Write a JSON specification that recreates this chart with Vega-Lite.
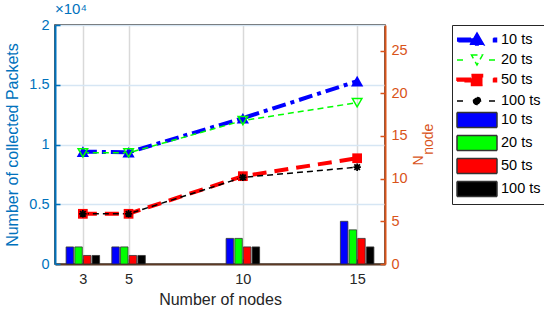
{
  "$schema": "https://vega.github.io/schema/vega-lite/v6.json",
  "width": 330,
  "height": 239,
  "padding": {"left": 4, "top": 2, "right": 0, "bottom": 0},
  "background": "white",
  "title": {"text": "×10⁴", "anchor": "start", "frame": "group", "color": "#0072BD", "fontSize": 15, "fontWeight": "normal", "offset": 0},
  "config": {
    "font": "Liberation Sans",
    "view": {"stroke": "#262626", "strokeWidth": 1.5},
    "axis": {"labelFontSize": 14.5, "titleFontSize": 16, "titleFontWeight": "normal", "tickSize": -5, "tickWidth": 1.5, "labelPadding": 11}
  },
  "datasets": {
    "packets": [
      {"nodes": 3, "key": "line 10 ts", "packets": 9400},
      {"nodes": 5, "key": "line 10 ts", "packets": 9350},
      {"nodes": 10, "key": "line 10 ts", "packets": 12200},
      {"nodes": 15, "key": "line 10 ts", "packets": 15300},
      {"nodes": 3, "key": "line 20 ts", "packets": 9300},
      {"nodes": 5, "key": "line 20 ts", "packets": 9300},
      {"nodes": 10, "key": "line 20 ts", "packets": 12000},
      {"nodes": 15, "key": "line 20 ts", "packets": 13500},
      {"nodes": 3, "key": "line 50 ts", "packets": 4200},
      {"nodes": 5, "key": "line 50 ts", "packets": 4200},
      {"nodes": 10, "key": "line 50 ts", "packets": 7350},
      {"nodes": 15, "key": "line 50 ts", "packets": 8850},
      {"nodes": 3, "key": "line 100 ts", "packets": 4200},
      {"nodes": 5, "key": "line 100 ts", "packets": 4200},
      {"nodes": 10, "key": "line 100 ts", "packets": 7250},
      {"nodes": 15, "key": "line 100 ts", "packets": 8100}
    ],
    "counts": [
      {"nodes": 3, "key": "bar 10 ts", "count": 2},
      {"nodes": 3, "key": "bar 20 ts", "count": 2},
      {"nodes": 3, "key": "bar 50 ts", "count": 1},
      {"nodes": 3, "key": "bar 100 ts", "count": 1},
      {"nodes": 5, "key": "bar 10 ts", "count": 2},
      {"nodes": 5, "key": "bar 20 ts", "count": 2},
      {"nodes": 5, "key": "bar 50 ts", "count": 1},
      {"nodes": 5, "key": "bar 100 ts", "count": 1},
      {"nodes": 10, "key": "bar 10 ts", "count": 3},
      {"nodes": 10, "key": "bar 20 ts", "count": 3},
      {"nodes": 10, "key": "bar 50 ts", "count": 2},
      {"nodes": 10, "key": "bar 100 ts", "count": 2},
      {"nodes": 15, "key": "bar 10 ts", "count": 5},
      {"nodes": 15, "key": "bar 20 ts", "count": 4},
      {"nodes": 15, "key": "bar 50 ts", "count": 3},
      {"nodes": 15, "key": "bar 100 ts", "count": 2}
    ]
  },
  "encoding": {
    "x": {
      "field": "nodes", "type": "quantitative",
      "scale": {"domain": [2, 16], "nice": false, "zero": false},
      "axis": {"title": "Number of nodes", "values": [3, 5, 10, 15], "grid": true, "gridColor": "#d9d9d9", "gridWidth": 1.5,
               "labelColor": "#262626", "titleColor": "#262626", "tickColor": "#262626", "domainColor": "#5c3a24", "domainWidth": 2,
               "labelPadding": 13, "titlePadding": 6}
    }
  },
  "layer": [
    {
      "data": {"name": "packets"},
      "encoding": {
        "y": {
          "field": "packets", "type": "quantitative",
          "scale": {"domain": [0, 20000], "nice": false},
          "axis": {"title": "Number of collected Packets", "values": [0, 5000, 10000, 15000, 20000], "labelExpr": "datum.value / 10000",
                   "grid": true, "gridColor": "#d6e6f4", "gridWidth": 1.5,
                   "labelColor": "#0072BD", "titleColor": "#0072BD", "tickColor": "#0072BD", "domainColor": "#0072BD", "domainWidth": 2, "titlePadding": 8}
        }
      },
      "layer": [
        {
          "transform": [{"filter": "false"}],
          "mark": {"type": "point", "filled": true, "opacity": 1},
          "encoding": {
            "fill": {"field": "key", "type": "nominal",
                     "scale": {"domain": ["line 10 ts", "line 20 ts", "line 50 ts", "line 100 ts", "bar 10 ts", "bar 20 ts", "bar 50 ts", "bar 100 ts"],
                               "range": ["#0000FF", "transparent", "#FF0000", "#000000", "#0000FF", "#00FF00", "#FF0000", "#000000"]},
                     "legend": {
                       "title": null, "orient": "right", "offset": 16, "padding": 4, "strokeColor": "#262626",
                       "symbolSize": 400, "symbolOpacity": 1, "symbolStrokeWidth": 1.5, "rowPadding": 1, "labelFontSize": 14.5, "labelOffset": 23, "labelColor": "#000000", "labelLimit": 200,
                       "labelExpr": "slice(datum.label, indexof(datum.label, ' ') + 1)",
                       "encode": {"legend": {"strokeWidth": {"value": 2}}}
                     }},
            "stroke": {"field": "key", "type": "nominal",
                       "scale": {"domain": ["line 10 ts", "line 20 ts", "line 50 ts", "line 100 ts", "bar 10 ts", "bar 20 ts", "bar 50 ts", "bar 100 ts"],
                                 "range": ["#0000FF", "#00FF00", "#FF0000", "#000000", "#333333", "#333333", "#333333", "#333333"]}},
            "strokeDash": {"field": "key", "type": "nominal",
                       "scale": {"domain": ["line 10 ts", "line 20 ts", "line 50 ts", "line 100 ts", "bar 10 ts", "bar 20 ts", "bar 50 ts", "bar 100 ts"],
                                 "range": [[14, 5, 4, 5], [6, 4], [14, 8], [6, 4], [1, 0], [1, 0], [1, 0], [1, 0]]}},
            "shape": {"field": "key", "type": "nominal",
                      "scale": {"domain": ["line 10 ts", "line 20 ts", "line 50 ts", "line 100 ts", "bar 10 ts", "bar 20 ts", "bar 50 ts", "bar 100 ts"],
                                "range": ["M-1,-0.17H1V0.17H-1ZM1,-0.7L1.7,0.5H0.3ZM2.65,-0.17H2.95V0.17H2.65Z",
                                          "M-1,0H-0.3M0.45,-0.5H1.55L1,0.5ZM2.2,0H2.9",
                                          "M-1,-0.17H1V0.17H-1ZM0.45,-0.55H1.55V0.55H0.45ZM2.65,-0.17H2.95V0.17H2.65Z",
                                          "M-1,0H-0.3M0.65,0A0.35,0.35 0 1,0 1.35,0A0.35,0.35 0 1,0 0.65,0ZM2.2,0H2.9",
                                          "M-1,-0.75H3V0.75H-1Z", "M-1,-0.75H3V0.75H-1Z", "M-1,-0.75H3V0.75H-1Z", "M-1,-0.75H3V0.75H-1Z"]}}
          }
        },
        {
          "mark": {"type": "line"},
          "encoding": {
            "stroke": {"field": "key", "type": "nominal"},
            "strokeDash": {"field": "key", "type": "nominal"},
            "strokeWidth": {"field": "key", "type": "nominal", "legend": null,
                       "scale": {"type": "ordinal", "domain": ["line 10 ts", "line 20 ts", "line 50 ts", "line 100 ts"], "range": [4, 1.5, 4, 1.5]}}
          }
        },
        {"transform": [{"filter": {"field": "key", "equal": "line 10 ts"}}],
         "mark": {"type": "point", "shape": "triangle-up", "size": 150, "filled": true, "color": "#0000FF", "opacity": 1}},
        {"transform": [{"filter": {"field": "key", "equal": "line 20 ts"}}],
         "mark": {"type": "point", "shape": "triangle-down", "size": 90, "filled": false, "color": "#00FF00", "strokeWidth": 1.5, "opacity": 1}},
        {"transform": [{"filter": {"field": "key", "equal": "line 50 ts"}}],
         "mark": {"type": "point", "shape": "square", "size": 95, "filled": true, "color": "#FF0000", "opacity": 1}},
        {"transform": [{"filter": {"field": "key", "equal": "line 100 ts"}}],
         "mark": {"type": "point", "shape": "M-1,0H1M0,-1V1M-0.75,-0.75L0.75,0.75M-0.75,0.75L0.75,-0.75", "size": 55, "filled": false, "color": "#000000", "strokeWidth": 1.8, "opacity": 1}}
      ]
    },
    {
      "data": {"name": "counts"},
      "encoding": {
        "y": {
          "field": "count", "type": "quantitative", "stack": null,
          "scale": {"domain": [0, 28], "nice": false},
          "axis": {"title": ["N\u00a0\u00a0\u00a0\u00a0\u00a0\u00a0\u00a0\u00a0\u200b", "\u200b\u00a0\u00a0\u00a0node"], "titleAngle": 270, "titleLineHeight": 10, "titleFontSize": 14,
                   "values": [0, 5, 10, 15, 20, 25], "grid": false,
                   "labelColor": "#D95319", "titleColor": "#D95319", "tickColor": "#D95319", "domainColor": "#D95319", "domainWidth": 2, "titlePadding": 8}
        },
        "fill": {"field": "key", "type": "nominal"}
      },
      "layer": [
        {"transform": [{"filter": {"field": "key", "equal": "bar 10 ts"}}],
         "mark": {"type": "bar", "width": 7.5, "xOffset": -13, "stroke": "#333333", "strokeWidth": 0.8}},
        {"transform": [{"filter": {"field": "key", "equal": "bar 20 ts"}}],
         "mark": {"type": "bar", "width": 7.5, "xOffset": -4.3, "stroke": "#333333", "strokeWidth": 0.8}},
        {"transform": [{"filter": {"field": "key", "equal": "bar 50 ts"}}],
         "mark": {"type": "bar", "width": 7.5, "xOffset": 4.3, "stroke": "#333333", "strokeWidth": 0.8}},
        {"transform": [{"filter": {"field": "key", "equal": "bar 100 ts"}}],
         "mark": {"type": "bar", "width": 7.5, "xOffset": 13, "stroke": "#333333", "strokeWidth": 0.8}}
      ]
    }
  ],
  "resolve": {"scale": {"y": "independent"}}
}
